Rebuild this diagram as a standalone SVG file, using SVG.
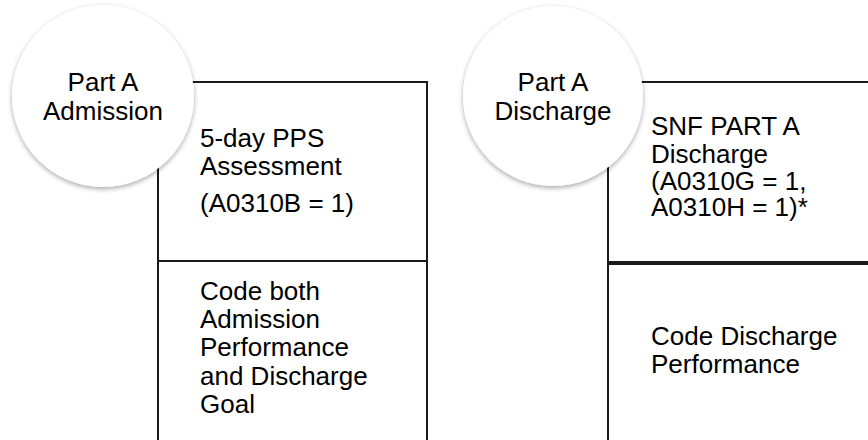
<svg xmlns="http://www.w3.org/2000/svg" width="868" height="440" viewBox="0 0 868 440">
<style>
.ln{stroke:#1a1a1a;stroke-width:2;fill:none}
.thick{stroke:#1a1a1a;stroke-width:4;fill:none}
.circ{fill:#fff;filter:url(#sh)}
text{font-family:"Liberation Sans",Arial,sans-serif;font-size:26px;fill:#000}
.c{text-anchor:middle}
</style>
<defs>
<filter id="sh" x="-20%" y="-20%" width="140%" height="150%">
<feGaussianBlur in="SourceAlpha" stdDeviation="2.5"/>
<feOffset dx="0" dy="2" result="b"/>
<feComponentTransfer><feFuncA type="linear" slope="0.35"/></feComponentTransfer>
<feMerge><feMergeNode/><feMergeNode in="SourceGraphic"/></feMerge>
</filter>
</defs>
<g id="admission-box">
<path class="ln" d="M158 440 V82 H427 V440"/>
<line class="ln" x1="158" y1="261" x2="427" y2="261"/>
<text x="200" y="147">5-day PPS</text>
<text x="200" y="175">Assessment</text>
<text x="200" y="212">(A0310B = 1)</text>
<text x="200" y="300">Code both</text>
<text x="200" y="328">Admission</text>
<text x="200" y="356">Performance</text>
<text x="200" y="385">and Discharge</text>
<text x="200" y="413">Goal</text>
</g>
<g id="discharge-box">
<path class="ln" d="M608 440 V82 H870"/>
<line class="thick" x1="607" y1="263" x2="870" y2="263"/>
<text x="651" y="135">SNF PART A</text>
<text x="651" y="163">Discharge</text>
<text x="651" y="190">(A0310G = 1,</text>
<text x="651" y="216">A0310H = 1)*</text>
<text x="651" y="345">Code Discharge</text>
<text x="651" y="373">Performance</text>
</g>
<g id="admission-circle">
<circle class="circ" cx="103" cy="96" r="91"/>
<text class="c" x="103" y="91">Part A</text>
<text class="c" x="103" y="120">Admission</text>
</g>
<g id="discharge-circle">
<circle class="circ" cx="553" cy="96" r="90"/>
<text class="c" x="553" y="91">Part A</text>
<text class="c" x="553" y="120">Discharge</text>
</g>
<g id="connectors"></g>
</svg>
